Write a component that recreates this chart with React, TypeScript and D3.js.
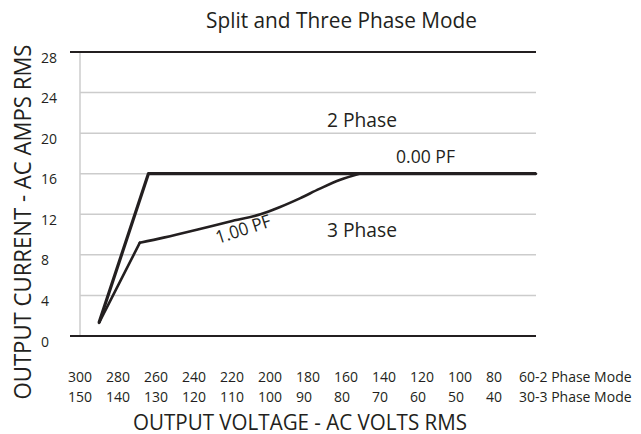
import React, { useEffect, useRef } from 'react';
import * as d3 from 'd3';

// tick labels
const voltsTwoPhase = [300, 280, 260, 240, 220, 200, 180, 160, 140, 120, 100, 80, 60];
const voltsThreePhase = [150, 140, 130, 120, 110, 100, 90, 80, 70, 60, 50, 40, 30];
const ampTicks = [0, 4, 8, 12, 16, 20, 24, 28];

// series, [2 phase volts, amps]
const twoPhaseV = [290, 264, 60];
const twoPhaseA = [1.3, 16, 16];
// 3 phase: straight rise to the knee, a smooth bend up to 16 A, then flat
const threePhaseRiseV = [290, 268.5];
const threePhaseRiseA = [1.3, 9.2];
const threePhaseBendV = [268.5, 256, 238, 221, 205, 195, 184, 174, 163, 153];
const threePhaseBendA = [9.2, 9.7, 10.5, 11.3, 12.0, 12.7, 13.6, 14.5, 15.4, 16];
const threePhaseFlatV = [153, 60];
const threePhaseFlatA = [16, 16];

const W = 641;
const H = 434;
const FONT = "'Open Sans', sans-serif";
const INK = '#231f20';

const App = () => {
    const svgRef = useRef<SVGSVGElement>(null);

    useEffect(() => {
        d3.select(svgRef.current).selectAll('*').remove();
        const svg = d3.select(svgRef.current);

        const x = d3.scaleLinear().domain([300, 60]).range([80, 536]);
        const y = d3.scaleLinear().domain([0, 28]).range([336, 52]);

        // grid
        svg.append('g')
            .selectAll('line')
            .data(ampTicks.filter(t => t !== 0 && t !== 28))
            .join('line')
            .attr('x1', x(300))
            .attr('x2', x(60))
            .attr('y1', d => y(d))
            .attr('y2', d => y(d))
            .attr('stroke', '#cccccc')
            .attr('stroke-width', 1.5);

        svg.append('line')
            .attr('x1', x(300)).attr('x2', x(300))
            .attr('y1', y(28)).attr('y2', y(0))
            .attr('stroke', '#cccccc')
            .attr('stroke-width', 1.5);

        // top and bottom frame lines
        svg.append('g')
            .selectAll('line')
            .data([0, 28])
            .join('line')
            .attr('x1', 70)
            .attr('x2', x(60))
            .attr('y1', d => y(d))
            .attr('y2', d => y(d))
            .attr('stroke', INK)
            .attr('stroke-width', 2.2);

        // y tick labels
        svg.append('g')
            .selectAll('text')
            .data(ampTicks)
            .join('text')
            .attr('x', 41)
            .attr('y', d => y(d) + 10.5)
            .attr('font-family', FONT)
            .attr('font-size', 14)
            .attr('fill', INK)
            .text(d => d);

        // x tick labels, two rows
        const rows = [
            { vals: voltsTwoPhase, suffix: '-2 Phase Mode', y: 382 },
            { vals: voltsThreePhase, suffix: '-3 Phase Mode', y: 402 },
        ];
        rows.forEach(row => {
            svg.append('g')
                .selectAll('text')
                .data(voltsTwoPhase.map((v, i) => ({ pos: v, label: row.vals[i], last: i === voltsTwoPhase.length - 1 })))
                .join('text')
                .attr('x', d => x(d.pos) - 12 - (d.last ? 5 : 0))
                .attr('y', row.y)
                .attr('font-family', FONT)
                .attr('font-size', 14)
                .attr('fill', INK)
                .text(d => (d.last ? `${d.label}${row.suffix}` : d.label));
        });

        const pairs = (vs: number[], as: number[]) => vs.map((v, i) => [v, as[i]] as [number, number]);

        const line = d3
            .line<[number, number]>()
            .x(d => x(d[0]))
            .y(d => y(d[1]));
        const smooth = d3
            .line<[number, number]>()
            .x(d => x(d[0]))
            .y(d => y(d[1]))
            .curve(d3.curveMonotoneX);

        const stroke3 = (sel: any) =>
            sel.attr('fill', 'none')
                .attr('stroke', INK)
                .attr('stroke-width', 2.6)
                .attr('stroke-linecap', 'round');

        svg.append('path').datum(pairs(threePhaseRiseV, threePhaseRiseA)).attr('d', line).call(stroke3);
        svg.append('path').datum(pairs(threePhaseBendV, threePhaseBendA)).attr('d', smooth).call(stroke3);
        svg.append('path').datum(pairs(threePhaseFlatV, threePhaseFlatA)).attr('d', line).call(stroke3);

        svg.append('path')
            .datum(pairs(twoPhaseV, twoPhaseA))
            .attr('d', line)
            .attr('fill', 'none')
            .attr('stroke', INK)
            .attr('stroke-width', 3.2)
            .attr('stroke-linejoin', 'round');

        // annotations
        const note = (txt: string, tx: number, ty: number, size: number, len: number, rot = 0) => {
            svg.append('text')
                .attr('transform', `translate(${tx},${ty}) rotate(${rot})`)
                .attr('font-family', FONT)
                .attr('font-size', size)
                .attr('fill', INK)
                .attr('textLength', len)
                .attr('lengthAdjust', 'spacingAndGlyphs')
                .text(txt);
        };
        note('2 Phase', 327, 127, 20, 70);
        note('0.00 PF', 396, 163, 18, 59);
        note('3 Phase', 327, 237, 20, 70);
        note('1.00 PF', 218, 244, 18, 57, -18);

        // titles
        note('Split and Three Phase Mode', 206, 28, 21, 271);
        note('OUTPUT VOLTAGE - AC VOLTS RMS', 133, 430, 22, 334);

        svg.append('text')
            .attr('transform', `translate(31,${222}) rotate(-90)`)
            .attr('text-anchor', 'middle')
            .attr('font-family', FONT)
            .attr('font-size', 23)
            .attr('fill', INK)
            .attr('textLength', 355)
            .attr('lengthAdjust', 'spacingAndGlyphs')
            .text('OUTPUT CURRENT - AC AMPS RMS');
    }, []);

    return (
        <svg
            ref={svgRef}
            width={W}
            height={H}
            style={{ position: 'absolute', left: 0, top: 0, background: '#fff' }}
        />
    );
};

export default App;
